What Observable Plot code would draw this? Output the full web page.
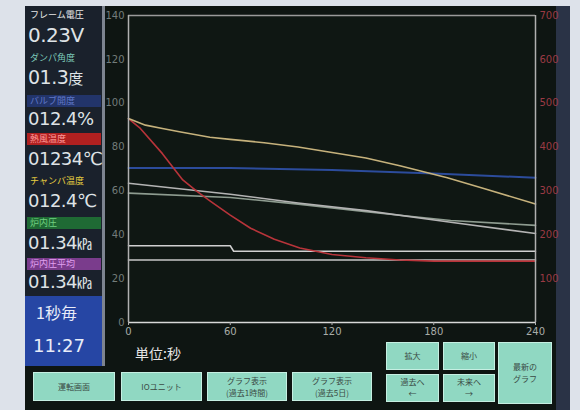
<!DOCTYPE html>
<html><head><meta charset="utf-8">
<script src="https://cdn.jsdelivr.net/npm/d3@7"></script>
<script src="https://cdn.jsdelivr.net/npm/@observablehq/plot@0.6"></script>
<style>
html,body{margin:0;padding:0;background:#dde2ea;}
#screen{position:relative;width:580px;height:410px;background:#dde2ea;overflow:hidden;font-family:"Noto Sans CJK JP","DejaVu Sans",sans-serif;}
.abs{position:absolute;}
.lbl{position:absolute;left:27px;width:74px;height:12px;font-size:9px;line-height:12px;padding-left:3px;box-sizing:border-box;white-space:nowrap;overflow:hidden;}
.val{position:absolute;left:28px;font-family:"DejaVu Sans",sans-serif;color:#dfe3e6;font-size:18px;line-height:22px;letter-spacing:-0.5px;white-space:nowrap;}
.unit{font-family:"Noto Sans CJK JP",sans-serif;font-size:15px;}
.btn{position:absolute;background:#90d8c2;border:1px solid #c6efe2;box-sizing:border-box;color:#3a4a44;font-size:8px;line-height:12px;text-align:center;display:flex;align-items:center;justify-content:center;}
</style></head>
<body>
<div id="screen">
  <div class="abs" style="left:25px;top:6px;width:545px;height:404px;background:#0e1512;"></div>
  <div class="abs" style="left:556px;top:6px;width:14px;height:404px;background:#2a3346;"></div>
  <div class="abs" style="left:25px;top:6px;width:78px;height:290px;background:#1a212c;"></div>
  <div class="abs" style="left:102px;top:6px;width:3px;height:360px;background:#7d8490;"></div>
  <div id="chart" class="abs" style="left:103px;top:0px;"></div>

  <div class="lbl" style="top:9px;color:#e8e8e8;">フレーム電圧</div>
  <div class="val" style="top:24px;font-size:20px;">0.23V</div>
  <div class="lbl" style="top:52px;color:#7cc8b8;">ダンパ角度</div>
  <div class="val" style="top:66px;font-size:19px;">01.3<span class="unit">度</span></div>
  <div class="lbl" style="top:95px;color:#6078c8;background:#22346a;">バルブ開度</div>
  <div class="val" style="top:108px;">012.4%</div>
  <div class="lbl" style="top:133px;color:#ff9a9a;background:#b02020;">熱風温度</div>
  <div class="val" style="top:148px;">01234℃</div>
  <div class="lbl" style="top:175px;color:#e8d040;">チャンバ温度</div>
  <div class="val" style="top:190px;">012.4℃</div>
  <div class="lbl" style="top:217px;color:#70d080;background:#1f6a34;">炉内圧</div>
  <div class="val" style="top:232px;">01.34<span class="unit">㎪</span></div>
  <div class="lbl" style="top:258px;color:#e0a0f0;background:#7a3c8c;">炉内圧平均</div>
  <div class="val" style="top:271px;">01.34<span class="unit">㎪</span></div>

  <div class="abs" style="left:25px;top:296px;width:77px;height:70px;background:#2646a4;"></div>
  <div class="abs" style="left:36px;top:300px;color:#e8ecf8;font-size:16px;line-height:24px;">1秒毎</div>
  <div class="abs" style="left:33px;top:334px;color:#e8ecf8;font-size:18px;line-height:24px;font-family:'DejaVu Sans',sans-serif;">11:27</div>

  <div class="abs" style="left:135px;top:343px;color:#e6e6e6;font-size:14px;line-height:20px;">単位:秒</div>

  <div class="btn" style="left:33px;top:372px;width:82px;height:29px;">運転画面</div>
  <div class="btn" style="left:121px;top:372px;width:81px;height:29px;">IOユニット</div>
  <div class="btn" style="left:207px;top:372px;width:80px;height:29px;">グラフ表示<br>(過去1時間)</div>
  <div class="btn" style="left:292px;top:372px;width:80px;height:29px;">グラフ表示<br>(過去5日)</div>
  <div class="btn" style="left:386px;top:342px;width:53px;height:28px;">拡大</div>
  <div class="btn" style="left:443px;top:342px;width:52px;height:28px;">縮小</div>
  <div class="btn" style="left:386px;top:374px;width:53px;height:28px;">過去へ<br>←</div>
  <div class="btn" style="left:443px;top:374px;width:52px;height:28px;">未来へ<br>→</div>
  <div class="btn" style="left:498px;top:342px;width:54px;height:62px;">最新の<br>グラフ</div>
</div>
<script>
// Time axis ticks (seconds) and value axis ticks
const xTicks = [0, 60, 120, 180, 240];
const yTicks = [0, 20, 40, 60, 80, 100, 120, 140];
const rightTicks = [20, 40, 60, 80, 100, 120, 140]; // labelled ×5 (100..700)

// Series (left axis units)
const tanT   = [0, 10, 20, 30, 48, 60, 80, 100, 120, 140, 160, 188, 210, 240];
const tanV   = [93, 90, 88.5, 87, 84.5, 83.5, 82, 80, 77.5, 75, 71.5, 66, 61, 54];

const blueT  = [0, 60, 120, 180, 240];
const blueV  = [70.5, 70.5, 69.5, 68, 66];

const redT   = [0, 7, 20, 32, 40, 48, 60, 72, 86, 101, 120, 140, 160, 180, 240];
const redV   = [93, 88.5, 77, 65, 60, 55.5, 49, 43, 38, 34, 31, 29.5, 28.5, 28, 28];

const grayAT = [0, 30, 60, 100, 140, 190, 240];
const grayAV = [63.5, 61, 58.5, 54.5, 51, 45.7, 40.6];

const grayBT = [0, 60, 100, 140, 190, 240];
const grayBV = [59, 57, 54, 50.5, 46.5, 44.3];

const stepT  = [0, 60, 62, 240];
const stepV  = [35, 35, 32.5, 32.5];

const flatT  = [0, 240];
const flatV  = [28.5, 28.5];

const zip = (ts, vs, s) => ts.map((t, i) => ({t, v: vs[i], s}));
const series = [
  {name: "gray B", data: zip(grayBT, grayBV), color: "#8e9c90", w: 1.6},
  {name: "gray A", data: zip(grayAT, grayAV), color: "#b4b4b4", w: 1.6},
  {name: "blue",   data: zip(blueT, blueV),   color: "#2c4c9c", w: 2},
  {name: "flat",   data: zip(flatT, flatV),   color: "#c8c8c8", w: 1.5},
  {name: "step",   data: zip(stepT, stepV),   color: "#d0d0d0", w: 1.5},
  {name: "red",    data: zip(redT, redV),     color: "#b8343a", w: 1.6},
  {name: "tan",    data: zip(tanT, tanV),     color: "#c6b27c", w: 1.6}
];

const chart = Plot.plot({
  width: 460,
  height: 345,
  marginLeft: 25,
  marginRight: 28,
  marginTop: 15,
  marginBottom: 23,
  style: {background: "transparent", fontFamily: "DejaVu Sans, sans-serif", fontSize: "10px"},
  x: {domain: [0, 240]},
  y: {domain: [0, 140]},
  marks: [
    Plot.frame({fill: "#0f1713"}),
    ...series.map(s => Plot.line(s.data, {x: "t", y: "v", stroke: s.color, strokeWidth: s.w})),
    Plot.ruleY([0], {stroke: "#d8d8d8", strokeWidth: 1.5}),
    Plot.ruleY([140], {stroke: "#9a9a9a", strokeWidth: 1.5}),
    Plot.ruleX([0], {stroke: "#b0b0b0", strokeWidth: 1.5}),
    Plot.ruleX([240], {stroke: "#b0b0b0", strokeWidth: 1.5}),
    Plot.axisX({ticks: xTicks, tickSize: 3, tickPadding: 2, stroke: "#b0b0b0", fill: "#a8aca8", label: null}),
    Plot.axisY({anchor: "left", ticks: yTicks, tickSize: 0, tickPadding: 4, fill: "#737c7a", label: null}),
    Plot.axisY({anchor: "right", ticks: rightTicks, tickSize: 0, tickPadding: 4, tickFormat: d => String(d * 5), fill: "#9a3a44", label: null})
  ]
});
document.getElementById("chart").appendChild(chart);
</script>
</body></html>
